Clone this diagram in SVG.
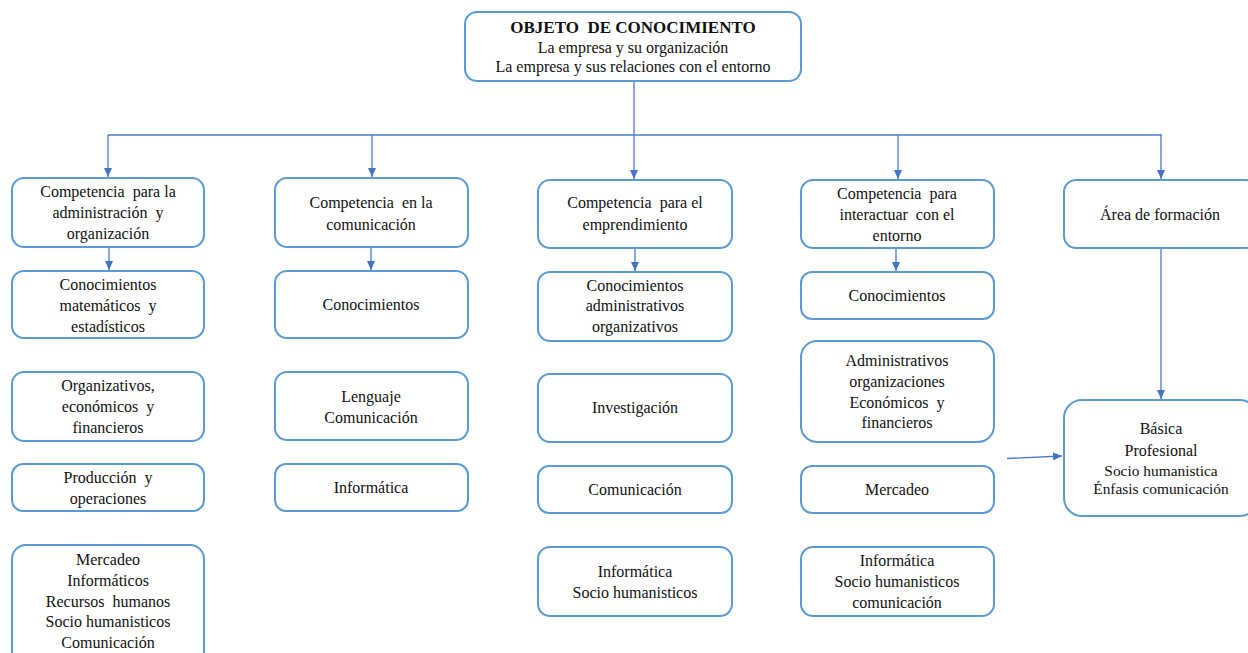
<svg xmlns="http://www.w3.org/2000/svg" width="1248" height="653" viewBox="0 0 1248 653">
<defs>
<style>
.box{fill:#fff;stroke:#5B9BD5;stroke-width:2}
.t{font-family:"Liberation Serif","Times New Roman",serif;font-size:16px;fill:#111;text-anchor:middle;white-space:pre}
.b{font-weight:bold;font-size:17px}
.s{font-size:15.4px}
.c{fill:none;stroke:#4A7CC9;stroke-width:1.3}
</style>
<marker id="ah" markerUnits="userSpaceOnUse" markerWidth="9" markerHeight="8" refX="9" refY="4" orient="auto">
<path d="M0,0 L9,4 L0,8 z" fill="#4472C4"/>
</marker>
</defs>
<rect width="1248" height="653" fill="#fff"/>
<g id="connectors">
<path class="c" d="M634,81 V135"/>
<path class="c" d="M108,135 H1162"/>
<path class="c" d="M634,135 V179" marker-end="url(#ah)"/>
<path class="c" d="M108,135 V177" marker-end="url(#ah)"/>
<path class="c" d="M372,135 V177" marker-end="url(#ah)"/>
<path class="c" d="M898,135 V179" marker-end="url(#ah)"/>
<path class="c" d="M1161,135 V179" marker-end="url(#ah)"/>
<path class="c" d="M109,248 V270" marker-end="url(#ah)"/>
<path class="c" d="M371,248 V270" marker-end="url(#ah)"/>
<path class="c" d="M635,249 V271" marker-end="url(#ah)"/>
<path class="c" d="M896,249 V271" marker-end="url(#ah)"/>
<path class="c" d="M1161,249 V399" marker-end="url(#ah)"/>
<path class="c" d="M1007,458.5 L1062,456" marker-end="url(#ah)"/>
</g>
<g id="objeto">
<rect class="box" x="465" y="12" width="336" height="69" rx="12"/>
<text class="t b" x="633" y="33">OBJETO  DE CONOCIMIENTO</text>
<text class="t" x="633" y="53">La empresa y su organización</text>
<text class="t" x="633" y="72">La empresa y sus relaciones con el entorno</text>
</g>
<g id="c1-head">
<rect class="box" x="12" y="178" width="192" height="69" rx="12"/>
<text class="t" x="108" y="197">Competencia  para la</text>
<text class="t" x="108" y="218">administración  y</text>
<text class="t" x="108" y="239">organización</text>
</g>
<g id="c1-n1">
<rect class="box" x="12" y="271" width="192" height="67" rx="12"/>
<text class="t" x="108" y="290">Conocimientos</text>
<text class="t" x="108" y="311">matemáticos  y</text>
<text class="t" x="108" y="332">estadísticos</text>
</g>
<g id="c1-n2">
<rect class="box" x="12" y="372" width="192" height="69" rx="12"/>
<text class="t" x="108" y="391">Organizativos,</text>
<text class="t" x="108" y="412">económicos  y</text>
<text class="t" x="108" y="433">financieros</text>
</g>
<g id="c1-n3">
<rect class="box" x="12" y="464" width="192" height="47" rx="11"/>
<text class="t" x="108" y="483">Producción  y</text>
<text class="t" x="108" y="504">operaciones</text>
</g>
<g id="c1-n4">
<rect class="box" x="12" y="545" width="192" height="125" rx="14"/>
<text class="t" x="108" y="565">Mercadeo</text>
<text class="t" x="108" y="586">Informáticos</text>
<text class="t" x="108" y="607">Recursos  humanos</text>
<text class="t" x="108" y="627">Socio humanisticos</text>
<text class="t" x="108" y="648">Comunicación</text>
</g>
<g id="c2-head">
<rect class="box" x="275" y="178" width="193" height="69" rx="12"/>
<text class="t" x="371" y="208">Competencia  en la</text>
<text class="t" x="371" y="230">comunicación</text>
</g>
<g id="c2-n1">
<rect class="box" x="275" y="271" width="193" height="67" rx="12"/>
<text class="t" x="371" y="310">Conocimientos</text>
</g>
<g id="c2-n2">
<rect class="box" x="275" y="372" width="193" height="68" rx="12"/>
<text class="t" x="371" y="402">Lenguaje</text>
<text class="t" x="371" y="423">Comunicación</text>
</g>
<g id="c2-n3">
<rect class="box" x="275" y="464" width="193" height="47" rx="11"/>
<text class="t" x="371" y="493">Informática</text>
</g>
<g id="c3-head">
<rect class="box" x="538" y="180" width="194" height="68" rx="12"/>
<text class="t" x="635" y="208">Competencia  para el</text>
<text class="t" x="635" y="230">emprendimiento</text>
</g>
<g id="c3-n1">
<rect class="box" x="538" y="272" width="194" height="69" rx="12"/>
<text class="t" x="635" y="291">Conocimientos</text>
<text class="t" x="635" y="311">administrativos</text>
<text class="t" x="635" y="332">organizativos</text>
</g>
<g id="c3-n2">
<rect class="box" x="538" y="374" width="194" height="68" rx="12"/>
<text class="t" x="635" y="413">Investigación</text>
</g>
<g id="c3-n3">
<rect class="box" x="538" y="466" width="194" height="47" rx="11"/>
<text class="t" x="635" y="495">Comunicación</text>
</g>
<g id="c3-n4">
<rect class="box" x="538" y="547" width="194" height="69" rx="12"/>
<text class="t" x="635" y="577">Informática</text>
<text class="t" x="635" y="598">Socio humanisticos</text>
</g>
<g id="c4-head">
<rect class="box" x="801" y="180" width="193" height="68" rx="12"/>
<text class="t" x="897" y="199">Competencia  para</text>
<text class="t" x="897" y="220">interactuar  con el</text>
<text class="t" x="897" y="241">entorno</text>
</g>
<g id="c4-n1">
<rect class="box" x="801" y="272" width="193" height="47" rx="11"/>
<text class="t" x="897" y="301">Conocimientos</text>
</g>
<g id="c4-n2">
<rect class="box" x="801" y="341" width="193" height="101" rx="16"/>
<text class="t" x="897" y="366">Administrativos</text>
<text class="t" x="897" y="387">organizaciones</text>
<text class="t" x="897" y="408">Económicos  y</text>
<text class="t" x="897" y="428">financieros</text>
</g>
<g id="c4-n3">
<rect class="box" x="801" y="466" width="193" height="47" rx="11"/>
<text class="t" x="897" y="495">Mercadeo</text>
</g>
<g id="c4-n4">
<rect class="box" x="801" y="547" width="193" height="69" rx="12"/>
<text class="t" x="897" y="566">Informática</text>
<text class="t" x="897" y="587">Socio humanisticos</text>
<text class="t" x="897" y="608">comunicación</text>
</g>
<g id="c5-head">
<rect class="box" x="1064" y="180" width="194" height="68" rx="12"/>
<text class="t" x="1160" y="220">Área de formación</text>
</g>
<g id="c5-n1">
<rect class="box" x="1064" y="400" width="194" height="116" rx="18"/>
<text class="t" x="1161" y="434">Básica</text>
<text class="t" x="1161" y="456">Profesional</text>
<text class="t s" x="1161" y="476">Socio humanistica</text>
<text class="t s" x="1161" y="494">Énfasis comunicación</text>
</g>
</svg>
